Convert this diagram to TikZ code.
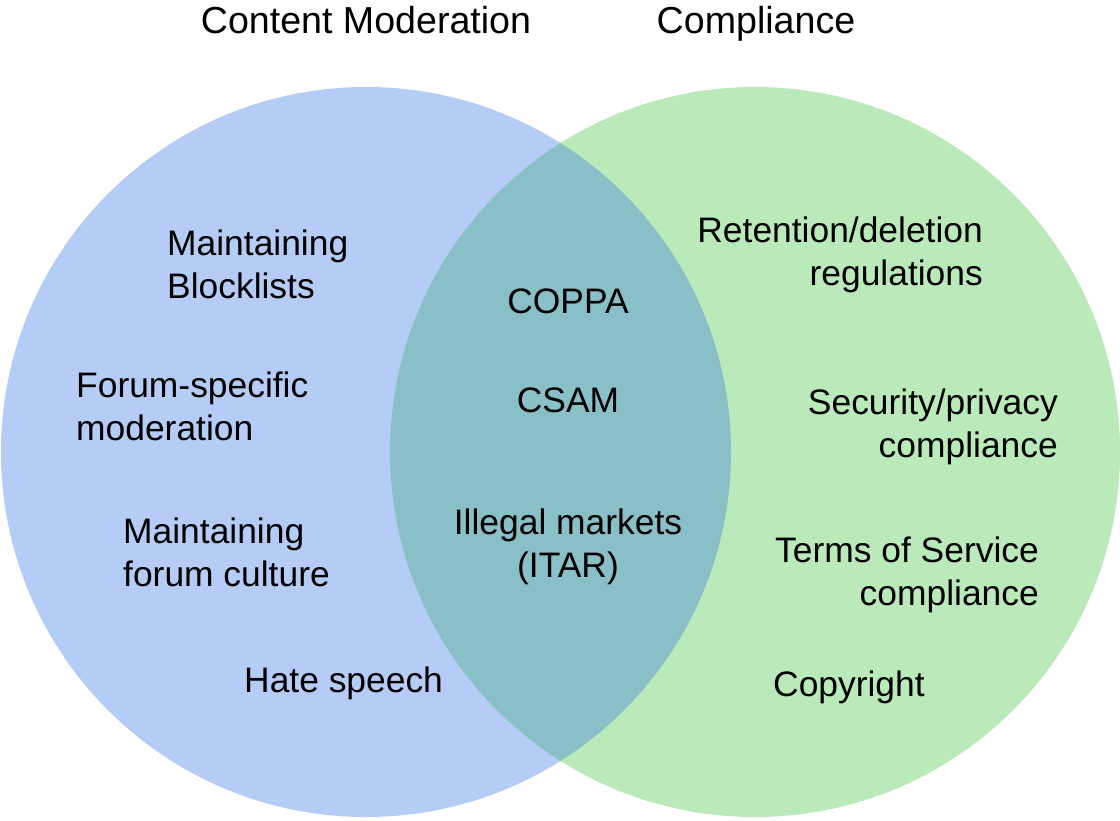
\documentclass[tikz,border=0pt]{standalone}
\usepackage{fontspec}
\setmainfont{Liberation Sans}
\definecolor{cmblue}{RGB}{180,204,246}
\definecolor{cpgreen}{RGB}{186,234,185}
\definecolor{ovteal}{RGB}{137,192,200}
\begin{document}
\begin{tikzpicture}[x=1pt,y=-1pt,
  lbl/.style={inner sep=0pt, text=black, font=\fontsize{35.4}{43}\selectfont},
  ttl/.style={inner sep=0pt, text=black, font=\fontsize{37.6}{44}\selectfont}]
\fill[white] (0,0) rectangle (1120,820);
\useasboundingbox (0,0) rectangle (1120,820);
\coordinate (cL) at (366,452);
\coordinate (cR) at (755,452);
\fill[cmblue] (cL) circle[radius=365];
\fill[cpgreen] (cR) circle[radius=365];
\begin{scope}
  \clip (cL) circle[radius=365];
  \fill[ovteal] (cR) circle[radius=365];
\end{scope}
% titles
\node[ttl, anchor=base] (tcm) at (366,33) {Content Moderation};
\node[ttl, anchor=base] (tcp) at (756,33) {Compliance};
% left (base anchor = last line baseline)
\node[lbl, anchor=base west, align=left] (blk) at (167,298) {Maintaining\\Blocklists};
\node[lbl, anchor=base west, align=left] (fsm) at (76,440) {Forum-specific\\moderation};
\node[lbl, anchor=base west, align=left] (mfc) at (123,586) {Maintaining\\forum culture};
\node[lbl, anchor=base west] (hate) at (244,692) {Hate speech};
% middle
\node[lbl, anchor=base] (coppa) at (568,313) {COPPA};
\node[lbl, anchor=base] (csam) at (568,412) {CSAM};
\node[lbl, anchor=base, align=center] (itar) at (568,577) {Illegal markets\\(ITAR)};
% right
\node[lbl, anchor=base east, align=right] (ret) at (983,285) {Retention/deletion\\regulations};
\node[lbl, anchor=base east, align=right] (sec) at (1058,457) {Security/privacy\\compliance};
\node[lbl, anchor=base east, align=right] (tos) at (1039,605) {Terms of Service\\compliance};
\node[lbl, anchor=base west] (copy) at (773,696) {Copyright};
\end{tikzpicture}
\end{document}
